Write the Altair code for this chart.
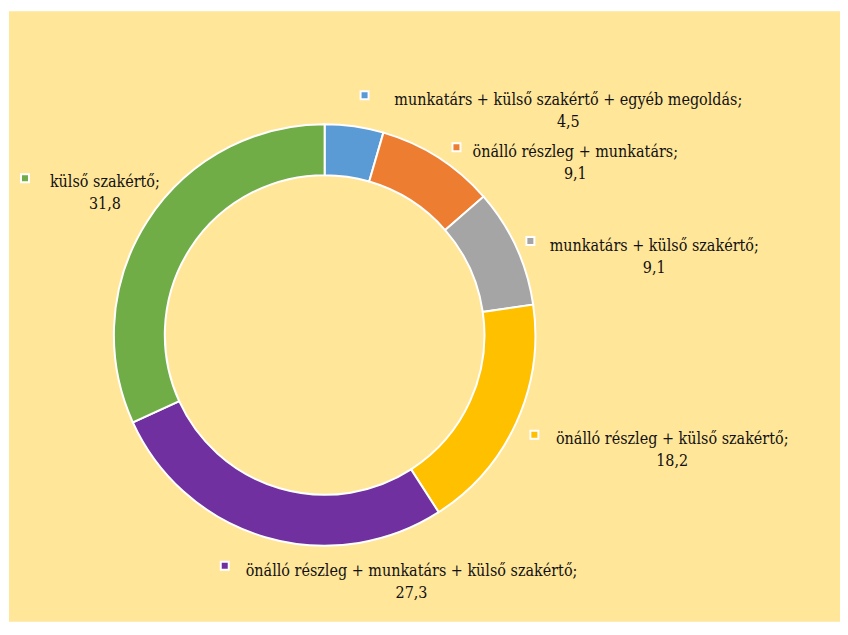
import altair as alt
import pandas as pd

# --- data ---
categories = [
    "munkatárs + külső szakértő + egyéb megoldás",
    "önálló részleg + munkatárs",
    "munkatárs + külső szakértő",
    "önálló részleg + külső szakértő",
    "önálló részleg + munkatárs + külső szakértő",
    "külső szakértő",
]
values = [4.5, 9.1, 9.1, 18.2, 27.3, 31.8]
colors = ["#5B9BD5", "#ED7D31", "#A5A5A5", "#FFC000", "#7030A0", "#70AD47"]

# --- label layout (pixels within the plot area) ---
label_x = [560, 567, 646, 664, 403, 96]
label_y = [89, 141, 235, 428, 560, 171]
marker_x = [356, 448, 522, 526, 216, 16]
marker_y = [84, 136, 230, 424, 555, 167]

CX, CY = 316, 324
R_OUT, R_IN = 211, 160
LINE_GAP = 22

df = pd.DataFrame({
    "cat": categories,
    "val": values,
    "idx": list(range(len(categories))),
    "line1": [c + ";" for c in categories],
    "line2": [f"{v:.1f}".replace(".", ",") for v in values],
    "lx": label_x,
    "ly": label_y,
    "mx": marker_x,
    "my": marker_y,
})

color = alt.Color("cat:N", scale=alt.Scale(domain=categories, range=colors), legend=None)

arcs = alt.Chart(df).mark_arc(
    outerRadius=R_OUT, innerRadius=R_IN, stroke="white", strokeWidth=2
).encode(
    theta=alt.Theta("val:Q", stack=True),
    order=alt.Order("idx:Q", sort="ascending"),
    color=color,
    x=alt.value(CX),
    y=alt.value(CY),
)

markers = alt.Chart(df).mark_point(
    shape="square", filled=True, size=64, stroke="white", strokeWidth=2, opacity=1
).encode(
    x=alt.X("mx:Q", scale=None, axis=None),
    y=alt.Y("my:Q", scale=None, axis=None),
    fill=alt.Fill("cat:N", scale=alt.Scale(domain=categories, range=colors), legend=None),
)

txt_style = dict(font="DejaVu Serif Condensed", fontSize=16, color="#111111",
                 align="center", baseline="middle")

line1 = alt.Chart(df).mark_text(**txt_style).encode(
    x=alt.X("lx:Q", scale=None, axis=None),
    y=alt.Y("ly:Q", scale=None, axis=None),
    text="line1:N",
)

line2 = alt.Chart(df).transform_calculate(
    ly2=f"datum.ly + {LINE_GAP}"
).mark_text(**txt_style).encode(
    x=alt.X("lx:Q", scale=None, axis=None),
    y=alt.Y("ly2:Q", scale=None, axis=None),
    text="line2:N",
)

chart = alt.layer(arcs, markers, line1, line2).properties(
    width=832, height=611, background="white",
    padding={"left": 1, "top": 3, "right": 0, "bottom": 0},
).configure_view(fill="#FFE699", stroke=None)

chart.save("out.html", embed_options={"renderer": "svg", "actions": False})
